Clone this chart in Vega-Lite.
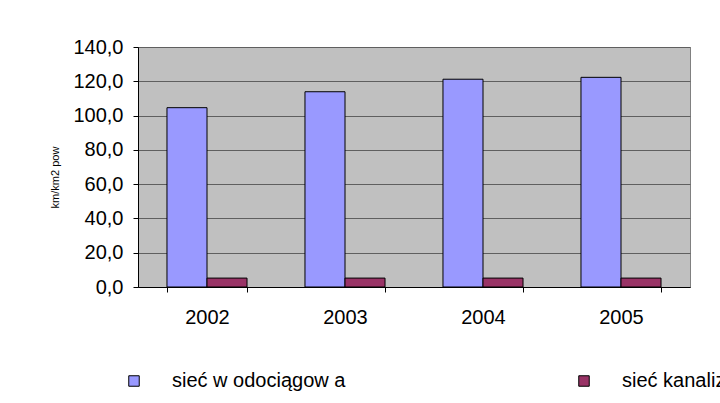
{
  "$schema": "https://vega.github.io/schema/vega-lite/v6.json",
  "autosize": {"type": "none"},
  "width": 552,
  "height": 240,
  "padding": {"left": 138, "top": 47, "right": 30, "bottom": 116},
  "background": "white",
  "config": {
    "font": "Liberation Sans",
    "view": {"fill": "#C0C0C0", "stroke": "#808080", "strokeWidth": 1}
  },
  "data": {
    "values": [
      {"year": "2002", "series": "sieć w odociągow a", "value": 104.6},
      {"year": "2002", "series": "sieć kanalizacyjna", "value": 5.2},
      {"year": "2003", "series": "sieć w odociągow a", "value": 113.9},
      {"year": "2003", "series": "sieć kanalizacyjna", "value": 5.2},
      {"year": "2004", "series": "sieć w odociągow a", "value": 121.2},
      {"year": "2004", "series": "sieć kanalizacyjna", "value": 5.2},
      {"year": "2005", "series": "sieć w odociągow a", "value": 122.3},
      {"year": "2005", "series": "sieć kanalizacyjna", "value": 5.2}
    ]
  },
  "mark": {"type": "bar", "stroke": "black", "strokeWidth": 1},
  "encoding": {
    "x": {
      "field": "year",
      "type": "nominal",
      "scale": {"paddingInner": 0.42, "paddingOuter": 0.21},
      "axis": {
        "title": null,
        "labelAngle": 0,
        "labelFontSize": 20,
        "labelColor": "black",
        "labelPadding": 15,
        "tickBand": "extent",
        "tickSize": 5,
        "tickColor": "black",
        "domainColor": "black",
        "grid": false,
        "zindex": 1
      }
    },
    "xOffset": {
      "field": "series",
      "type": "nominal",
      "sort": ["sieć w odociągow a", "sieć kanalizacyjna"],
      "scale": {"paddingInner": 0, "paddingOuter": 0}
    },
    "y": {
      "field": "value",
      "type": "quantitative",
      "scale": {"domain": [0, 140], "nice": false},
      "axis": {
        "title": "km/km2 pow",
        "titleFontSize": 11,
        "titleFontWeight": "normal",
        "titleColor": "black",
        "titlePadding": 12,
        "titleY": 130,
        "values": [0, 20, 40, 60, 80, 100, 120, 140],
        "labelExpr": "replace(format(datum.value, '.1f'), '.', ',')",
        "labelFontSize": 20,
        "labelColor": "black",
        "labelPadding": 10,
        "tickSize": 5,
        "tickColor": "black",
        "domainColor": "black",
        "grid": true,
        "gridColor": "#5f5f5f",
        "gridWidth": 1
      }
    },
    "color": {
      "field": "series",
      "type": "nominal",
      "sort": ["sieć w odociągow a", "sieć kanalizacyjna"],
      "scale": {
        "domain": ["sieć w odociągow a", "sieć kanalizacyjna"],
        "range": ["#9999FF", "#993366"]
      },
      "legend": {
        "title": null,
        "orient": "none",
        "legendX": -14,
        "legendY": 324,
        "direction": "horizontal",
        "columns": 2,
        "padding": 0,
        "symbolType": "square",
        "symbolSize": 110,
        "symbolStrokeColor": "black",
        "symbolStrokeWidth": 1,
        "labelFontSize": 20,
        "labelColor": "black",
        "labelOffset": 28,
        "labelLimit": 400,
        "columnPadding": 228
      }
    }
  }
}
